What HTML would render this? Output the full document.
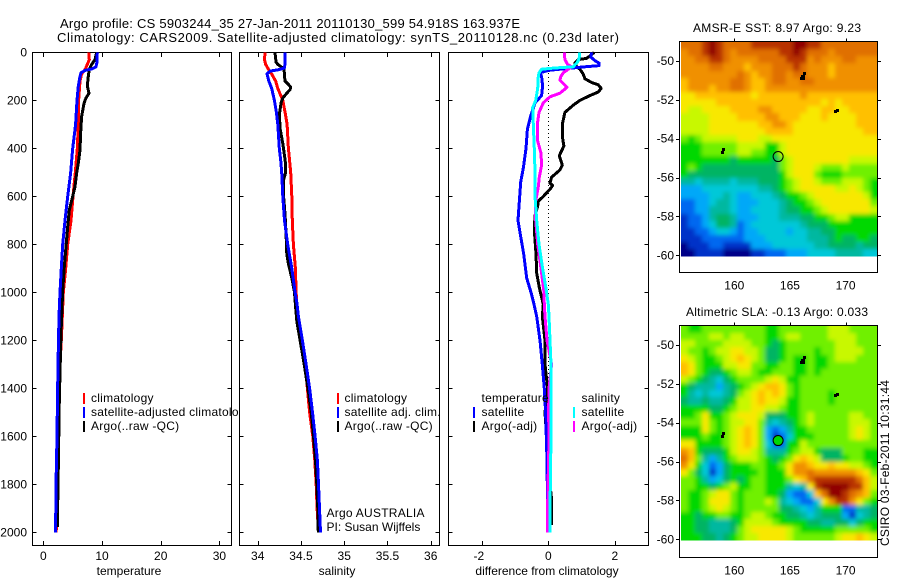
<!DOCTYPE html>
<html>
<head>
<meta charset="utf-8">
<title>Argo profile</title>
<style>
html,body{margin:0;padding:0;background:#fff;}
svg{display:block;}
text{font-family:"Liberation Sans",sans-serif;font-size:12px;fill:#000;}
</style>
</head>
<body>
<svg id="chart" xmlns="http://www.w3.org/2000/svg" width="900" height="580" viewBox="0 0 900 580">
<defs>
<filter id="map-smooth" x="-10%" y="-10%" width="120%" height="120%"><feGaussianBlur stdDeviation="2"/></filter>
<clipPath id="sst-clip"><rect x="681" y="42" width="196" height="214.5"/></clipPath>
<clipPath id="sla-clip"><rect x="681" y="326" width="196" height="214.5"/></clipPath>
</defs>
<rect x="0" y="0" width="900" height="580" fill="#fff"/>
<text x="60" y="28" style="font-size:13px" textLength="460" lengthAdjust="spacing">Argo profile: CS 5903244_35 27-Jan-2011 20110130_599 54.918S 163.937E</text>
<text x="57" y="42" style="font-size:13px" textLength="562" lengthAdjust="spacing">Climatology: CARS2009. Satellite-adjusted climatology: synTS_20110128.nc (0.23d later)</text>
<text x="693" y="32" textLength="168" lengthAdjust="spacing">AMSR-E SST: 8.97 Argo: 9.23</text>
<text x="686" y="316" textLength="182" lengthAdjust="spacing">Altimetric SLA: -0.13 Argo: 0.033</text>
<text transform="translate(889,546) rotate(-90)" textLength="166" lengthAdjust="spacing">CSIRO 03-Feb-2011 10:31:44</text>
</svg>
<script>
/* ---------- profile data (depth in dbar) ---------- */
const depthTicks = [0,200,400,600,800,1000,1200,1400,1600,1800,2000];
const tempTicks = [0,10,20,30];
const salTicks = [34,34.5,35,35.5,36];
const salTickLabels = ['34','34.5','35','35.5','36'];
const diffTicks = [-2,0,2];

const tempClimDepth = [0,30,50,70,90,120,200,300,400,500,600,700,800,900,1000,1100,1200,1300,1400,1550,1800,2000];
const tempClimValue = [7.73,7.84,7.5,7.16,6.53,6.25,6.02,5.97,5.8,5.45,5.06,4.72,4.15,3.81,3.41,3.24,3.07,2.84,2.73,2.67,2.4,2.2];
const tempArgoDepth = [0,30,50,70,100,140,170,190,212,268,337,407,462,504,560,600,657,726,810,893,990,1170,1450,1728,1978];
const tempArgoValue = [9.09,8.81,8.24,7.84,7.67,7.5,7.78,7.27,6.93,6.53,6.36,6.25,5.97,5.68,5.4,5.0,4.43,4.15,3.86,3.58,3.3,3.01,2.73,2.56,2.39];
const tempSatDepth = [0,40,60,69,75,85,100,140,200,300,400,500,600,700,800,900,1000,1100,1300,1500,1600,1800,2000];
const tempSatValue = [9.2,9.15,8.98,8.24,7.1,6.42,6.25,5.97,5.74,5.51,5.0,4.66,4.15,3.69,3.3,3.07,2.84,2.67,2.5,2.39,2.33,2.16,2.1];

const salClimDepth = [0,30,50,70,90,120,150,200,250,300,400,500,600,700,800,900,1000,1100,1200,1300,1400,1500,1600,1700,1800,1900,2000];
const salClimValue = [34.085,34.077,34.093,34.124,34.162,34.208,34.232,34.29,34.317,34.34,34.355,34.382,34.394,34.40,34.413,34.436,34.444,34.463,34.51,34.548,34.575,34.6,34.637,34.66,34.676,34.687,34.703];
const salArgoDepth = [0,40,50,60,70,100,120,130,145,155,170,190,210,260,320,380,430,470,500,530,600,680,760,840,880,940,1000,1050,1120,1200,1300,1400,1500,1600,1700,1800,1900,2000];
const salArgoValue = [34.2,34.212,34.232,34.27,34.305,34.31,34.317,34.347,34.382,34.375,34.336,34.29,34.27,34.25,34.26,34.29,34.31,34.324,34.324,34.30,34.30,34.317,34.328,34.336,34.355,34.394,34.425,34.436,34.452,34.49,34.537,34.58,34.618,34.645,34.668,34.683,34.695,34.70];
const salSatDepth = [0,40,65,72,78,90,120,150,200,250,300,400,450,500,600,700,800,900,1000,1050,1100,1200,1300,1400,1500,1600,1700,1800,1900,2000];
const salSatValue = [34.317,34.317,34.31,34.24,34.143,34.108,34.13,34.162,34.193,34.216,34.232,34.25,34.266,34.278,34.29,34.31,34.347,34.394,34.432,34.456,34.47,34.517,34.56,34.6,34.633,34.664,34.69,34.703,34.714,34.726];

const diffTempSatDepth = [0,20,35,45,55,60,68,75,85,100,140,180,210,260,320,400,480,540,600,700,760,840,940,1000,1050,1100,1200,1300,1400,1500,1600,1700,1800,2000];
const diffTempSatValue = [1.3,1.28,1.41,1.53,1.53,1.1,0.5,0,-0.25,-0.2,-0.17,-0.2,-0.4,-0.52,-0.63,-0.67,-0.75,-0.83,-0.86,-0.91,-0.84,-0.74,-0.65,-0.52,-0.43,-0.35,-0.25,-0.18,-0.12,-0.08,-0.06,-0.04,-0.03,-0.02];
const diffTempArgoDepth = [0,15,25,30,45,60,70,90,110,125,135,150,165,180,200,220,250,300,350,390,430,470,490,520,545,555,570,600,620,640,680,740,780,840,920,980,1050,1100,1200,1300,1400,1500,1600,1700,1800,1850,1970];
const diffTempArgoValue = [1.38,1.25,1.15,0.9,0.8,0.85,0.95,1.05,1.1,1.3,1.5,1.59,1.5,1.25,0.95,0.75,0.5,0.42,0.42,0.47,0.33,0.42,0.35,0.1,0.05,0.13,0.05,-0.15,-0.3,-0.32,-0.4,-0.42,-0.4,-0.37,-0.35,-0.27,-0.15,-0.18,-0.1,-0.1,-0.02,-0.1,-0.05,-0.02,0.05,0.09,0.09];
const diffSalSatDepth = [0,25,40,60,65,70,85,100,150,200,230,300,400,500,600,700,800,900,1000,1050,1100,1200,1300,1400,1600,1800,2000];
const diffSalSatValue = [0.94,0.93,0.88,0.75,0.2,-0.2,-0.28,-0.3,-0.32,-0.38,-0.47,-0.45,-0.42,-0.4,-0.4,-0.35,-0.28,-0.17,-0.05,0,0.02,0.05,0.08,0.08,0.08,0.06,0.05];
const diffSalArgoDepth = [0,30,50,60,70,85,100,115,130,145,155,170,185,210,250,300,370,420,470,520,560,620,700,800,900,1000,1050,1100,1200,1300,1400,1500,1600,1700,1800,1900,2000];
const diffSalArgoValue = [0.48,0.5,0.58,0.7,0.6,0.45,0.38,0.35,0.45,0.56,0.48,0.35,0.05,-0.15,-0.28,-0.33,-0.32,-0.22,-0.2,-0.27,-0.3,-0.38,-0.38,-0.32,-0.22,-0.13,-0.12,-0.1,-0.04,0.1,0.02,0.01,0.02,0.01,-0.01,-0.02,-0.02];

/* ---------- map data ---------- */
const lonTicks = [160,165,170];
const latTicks = [-50,-52,-54,-56,-58,-60];
const gridLonStart = 155.21;
const gridLonStep = 0.63;
const gridLatStart = -49.02;
const gridLatStep = -0.368;
const argoLon = 163.937;
const argoLat = -54.918;
const landLon = [166.0,166.15,166.05,166.2,166.25,169.05,169.2,158.85,158.95];
const landLat = [-50.9,-50.9,-50.75,-50.75,-50.6,-52.55,-52.5,-54.7,-54.55];

const sstLevels = [
[13,13,13,14,15,14,13,13,13,13,14,14,14,14,14,14,15,15,14,14,13,13,13,13,13,13,13,13],
[12,13,13,14,15,14,13,12,13,13,13,13,13,13,14,14,15,14,13,13,13,12,13,13,13,13,13,13],
[12,12,13,13,14,14,13,12,12,12,12,13,13,13,13,14,14,14,12,13,12,12,12,13,13,12,12,12],
[12,12,12,12,13,13,12,12,12,11,12,12,12,13,13,13,14,13,12,12,12,11,12,12,12,12,12,12],
[12,12,12,12,12,12,12,12,13,12,11,12,12,13,13,12,13,13,12,12,12,11,12,12,12,12,12,12],
[11,12,12,12,12,12,12,13,13,12,11,11,12,13,13,12,12,13,13,12,12,12,12,12,12,12,12,12],
[11,12,12,12,11,12,12,13,13,12,11,11,12,12,12,12,12,12,12,12,12,12,12,12,12,12,12,12],
[10,10,11,11,11,11,11,11,11,11,10,11,11,11,11,11,11,12,11,11,11,11,11,11,11,11,11,11],
[10,10,10,10,10,11,11,11,11,11,11,11,11,11,11,11,11,11,11,11,10,11,10,11,11,11,11,11],
[10,9,9,10,10,10,10,11,11,11,11,12,12,11,11,11,11,11,10,10,11,11,10,10,11,11,11,11],
[9,9,9,9,10,10,10,10,11,11,11,11,12,12,11,11,11,10,10,10,11,10,10,10,10,11,11,11],
[9,9,9,9,10,10,10,10,10,10,10,11,11,12,12,11,10,10,10,10,10,10,10,10,10,11,11,11],
[9,9,9,9,10,10,10,10,10,10,10,10,11,11,11,11,10,10,10,10,10,10,10,10,10,10,11,11],
[8,7,8,9,9,9,9,9,10,10,10,9,9,10,10,10,10,10,10,10,10,10,10,10,10,10,10,10],
[7,7,7,8,8,8,8,8,9,9,9,9,7,7,9,10,10,10,10,10,10,10,10,10,10,10,10,10],
[7,7,7,8,8,8,8,8,9,9,8,8,7,7,9,10,10,10,10,10,10,10,10,10,10,10,10,10],
[7,7,7,7,7,7,7,6,7,7,7,7,7,6,8,9,10,10,10,10,10,10,10,10,9,9,9,9],
[7,8,7,6,6,6,6,6,6,6,6,6,6,6,8,9,10,10,10,9,8,8,8,9,8,8,8,8],
[7,6,6,6,6,6,6,6,6,6,6,6,6,6,7,9,10,10,10,8,7,7,7,8,8,8,8,8],
[5,5,4,5,5,5,5,4,5,5,5,6,6,6,7,8,9,10,10,9,8,8,8,9,9,9,8,7],
[3,3,3,4,4,4,4,4,4,4,4,5,5,6,7,8,9,10,10,10,10,10,9,9,10,9,8,7],
[3,3,3,3,4,4,5,4,3,3,4,4,4,5,6,7,7,8,9,10,10,10,10,10,10,10,9,7],
[2,2,3,3,4,5,5,4,3,3,3,4,4,4,5,6,7,7,8,9,10,10,10,10,10,10,10,8],
[2,2,3,3,5,5,5,4,3,3,4,4,4,4,5,6,6,7,7,8,9,10,10,10,10,10,10,9],
[1,2,2,3,5,6,6,5,3,3,3,4,4,4,5,5,5,6,6,7,7,8,9,9,7,7,7,7],
[1,2,2,3,4,6,6,5,2,3,4,4,4,4,4,4,4,5,6,6,6,7,7,7,7,7,7,7],
[1,1,2,2,3,4,4,3,2,3,3,4,4,4,4,3,4,4,5,5,6,6,7,7,7,7,7,7],
[1,1,1,2,2,2,2,2,2,3,3,3,4,4,4,4,4,4,5,5,5,6,7,6,6,7,7,6],
[0,1,1,1,2,2,1,1,1,1,3,3,3,4,4,4,4,4,4,5,5,6,6,6,6,5,6,6],
[0,0,1,1,1,1,0,0,0,0,1,1,2,2,2,3,3,3,4,4,4,4,5,5,5,5,4,4]
];
const slaLevels = [
[8,7,7,8,8,8,8,8,8,8,8,8,7,7,8,8,8,8,8,8,8,9,9,9,8,8,8,8],
[8,8,8,8,9,9,8,9,9,8,8,8,7,7,8,9,9,8,8,8,8,9,9,9,9,8,8,8],
[9,9,8,8,8,8,9,9,9,9,8,8,7,6,7,8,8,8,8,8,8,8,9,9,9,8,8,8],
[9,8,8,7,8,9,9,10,10,9,9,8,6,6,7,8,8,8,8,7,8,8,9,9,9,9,8,8],
[10,9,8,7,7,8,9,10,11,10,9,8,6,6,7,8,7,7,8,7,7,8,9,9,9,8,8,8],
[11,10,8,7,7,7,9,9,10,10,8,8,7,7,8,8,7,7,8,7,7,8,8,8,8,8,8,8],
[11,10,8,7,6,6,7,8,9,9,8,7,7,8,8,8,7,7,8,7,8,8,8,8,8,8,8,8],
[9,8,7,6,5,4,6,7,8,8,8,8,9,10,9,7,7,8,8,8,8,8,8,8,8,8,8,8],
[7,6,5,5,5,3,5,6,7,8,9,10,11,11,10,8,7,8,8,8,8,8,8,8,8,8,8,8],
[7,5,4,5,4,4,5,6,8,9,10,11,10,11,10,8,7,8,8,8,8,7,8,8,8,8,8,8],
[6,5,5,6,5,5,6,7,9,9,10,11,10,10,9,7,7,8,8,8,8,7,8,8,8,8,8,8],
[7,7,7,7,6,6,7,8,9,9,10,10,9,9,8,7,7,8,8,8,8,8,8,8,8,8,8,8],
[7,7,8,10,7,7,8,9,10,10,10,9,6,6,6,7,7,8,9,8,8,8,8,8,9,9,8,8],
[8,8,8,10,8,7,8,9,9,10,10,8,5,4,5,6,7,8,9,8,8,8,8,8,9,9,9,8],
[7,7,7,10,8,7,8,9,10,11,10,8,3,2,3,5,7,7,8,8,8,8,8,8,9,10,9,8],
[7,7,7,8,7,7,8,9,10,11,10,8,3,1,2,4,7,7,7,8,8,8,8,8,9,10,9,8],
[10,10,7,7,7,7,8,9,10,11,10,8,4,2,2,7,7,9,8,8,8,8,8,8,8,8,8,8],
[12,11,7,6,6,6,7,9,10,10,9,8,5,5,5,7,8,9,9,7,6,6,6,8,8,8,7,7],
[13,11,8,5,3,5,7,8,9,9,9,8,7,6,7,8,10,11,10,9,6,6,6,7,8,8,7,7],
[12,10,7,4,2,3,6,7,7,7,8,8,7,7,8,10,12,12,11,10,10,11,10,10,9,9,8,7],
[10,8,6,4,1,3,6,7,7,7,7,8,7,7,7,10,12,12,13,12,12,12,12,12,12,11,10,8],
[8,8,7,5,3,4,6,7,6,7,8,8,7,7,7,8,10,11,13,14,14,14,14,14,14,13,11,9],
[8,8,7,7,6,7,8,9,7,7,8,8,7,7,7,5,4,5,10,14,15,15,15,15,14,14,11,9],
[8,7,7,8,9,10,10,8,7,8,8,8,7,7,6,3,2,2,4,11,13,15,15,14,13,12,11,8],
[8,7,7,8,10,10,10,8,7,8,8,8,9,8,5,4,3,2,2,4,10,12,14,14,12,10,8,7],
[8,7,7,8,9,10,9,8,7,8,8,8,8,8,6,6,5,4,3,5,7,7,7,2,2,5,5,6],
[7,7,6,7,7,8,8,7,7,8,9,9,8,7,7,6,6,5,4,5,6,6,6,3,1,4,5,6],
[7,7,6,6,5,5,5,6,7,9,9,9,9,8,7,7,7,7,6,6,5,5,6,6,4,6,7,7],
[7,7,6,6,5,5,5,6,8,9,10,10,10,10,10,9,8,7,7,7,7,7,8,8,8,8,8,7],
[7,7,7,6,6,5,6,7,8,9,9,10,10,10,10,9,8,8,8,8,8,8,9,10,10,11,10,9]
];
const levelColors = ['#000088','#0030c8','#0068f0','#00a8f8','#00c8d8','#00b8a0','#00b464','#00d800','#70f000','#c8f800','#f8e800','#ffc000','#f09000','#e07000','#b83000','#900000'];

/* ---------- drawing ---------- */
const NS = 'http://www.w3.org/2000/svg';
const svg = document.getElementById('chart');
const yDepth = d => 52.4 + d * 0.24;

function shape(tag, attrs, parent){
  const el = document.createElementNS(NS, tag);
  for (const k in attrs) el.setAttribute(k, attrs[k]);
  (parent || svg).appendChild(el);
  return el;
}
function label(str, x, y, anchor){
  const t = shape('text', {x:x, y:y, 'text-anchor':anchor || 'start'});
  t.textContent = str;
  return t;
}
function seg(x1,y1,x2,y2,color,w){
  return shape('line',{x1:x1,y1:y1,x2:x2,y2:y2,stroke:color,'stroke-width':w||1,'shape-rendering':'crispEdges'});
}

function profilePanel(p){
  const bg = shape('rect',{x:p.left,y:52.5,width:p.right-p.left,height:493,fill:'#fff',stroke:'#000','stroke-width':1.2,'shape-rendering':'crispEdges'});
  
  
  depthTicks.forEach(d => {
    const y = Math.round(yDepth(d)) + 0.5;
    const a = seg(p.left,y,p.left+4,y,'#000');
    
    
    const b = seg(p.right-4,y,p.right,y,'#000');
    
    
    if (p.showDepth) {
      const t = label(String(d), 27, yDepth(d) + 4, 'end');
      
      
    }
  });
  p.ticks.forEach((v,i) => {
    const x = Math.round(p.x(v)) + 0.5;
    const a = seg(x,545.5,x,541,'#000');
    
    
    const b = seg(x,52.5,x,57,'#000');
    
    
    const t = label(p.tickLabels ? p.tickLabels[i] : String(v), p.x(v) - (v < 0 ? 3 : 0), 560, 'middle');
    
    
  });
  const title = label(p.xTitle, p.xTitleX, 575, 'middle');
  
  
}
function profileLine(name, p, depths, values, color, w){
  const pts = depths.map((d,i) => p.x(values[i]).toFixed(1) + ',' + yDepth(d).toFixed(1)).join(' ');
  const l = shape('polyline',{points:pts,fill:'none',stroke:color,'stroke-width':w,'shape-rendering':'crispEdges','stroke-linejoin':'round'});
  
  
}
function legendEntry(name, barX, textX, y, color, str, spacing){
  if (color) {
    const r = shape('rect',{x:barX,y:y-9,width:2,height:11,fill:color,'shape-rendering':'crispEdges'});
    
    
  }
  const t = label(str, textX, y);
  
  
  t.style.letterSpacing = (spacing === undefined ? 0.25 : spacing) + 'px';
}

const tempPanel = {name:'temperature-panel', left:32.5, right:231.5, showDepth:true, ticks:tempTicks, x:v => 43.3 + 5.87*v, xTitle:'temperature', xTitleX:129};
const salPanel = {name:'salinity-panel', left:239.5, right:439.5, showDepth:false, ticks:salTicks, tickLabels:salTickLabels, x:v => 257.7 + 86.5*(v-34), xTitle:'salinity', xTitleX:337};
const diffPanel = {name:'difference-panel', left:448.5, right:648.5, showDepth:false, ticks:diffTicks, x:v => 548.3 + 33.25*v, xTitle:'difference from climatology', xTitleX:547};

/* temperature panel */
profilePanel(tempPanel);
profileLine('temperature-climatology-line', tempPanel, tempClimDepth, tempClimValue, '#ff0000', 3);
profileLine('temperature-argo-line', tempPanel, tempArgoDepth, tempArgoValue, '#000000', 3);
profileLine('temperature-satellite-line', tempPanel, tempSatDepth, tempSatValue, '#0000ff', 3);
legendEntry('temperature-legend-climatology', 83, 91, 402, '#ff0000', 'climatology');
legendEntry('temperature-legend-satellite', 83, 91, 416, '#0000ff', 'satellite-adjusted climatology');
legendEntry('temperature-legend-argo', 83, 91, 430, '#000000', 'Argo(..raw -QC)');

/* salinity panel (its white plot area clips the long legend label) */
profilePanel(salPanel);
profileLine('salinity-climatology-line', salPanel, salClimDepth, salClimValue, '#ff0000', 3);
profileLine('salinity-argo-line', salPanel, salArgoDepth, salArgoValue, '#000000', 3);
profileLine('salinity-satellite-line', salPanel, salSatDepth, salSatValue, '#0000ff', 3);
legendEntry('salinity-legend-climatology', 337, 344.5, 402, '#ff0000', 'climatology');
legendEntry('salinity-legend-satellite', 337, 344.5, 416, '#0000ff', 'satellite adj. clim.');
legendEntry('salinity-legend-argo', 337, 344.5, 430, '#000000', 'Argo(..raw -QC)');
legendEntry('float-owner-label', 0, 326.5, 517, null, 'Argo AUSTRALIA');
legendEntry('principal-investigator-label', 0, 326.5, 531, null, 'PI: Susan Wijffels', 0);

/* difference panel */
profilePanel(diffPanel);
const zeroLine = shape('line',{x1:548.5,y1:53,x2:548.5,y2:532,stroke:'#000','stroke-width':1,'stroke-dasharray':'1 3','shape-rendering':'crispEdges'});


profileLine('difference-temperature-argo-line', diffPanel, diffTempArgoDepth, diffTempArgoValue, '#000000', 3);
profileLine('difference-temperature-satellite-line', diffPanel, diffTempSatDepth, diffTempSatValue, '#0000ff', 3);
profileLine('difference-salinity-argo-line', diffPanel, diffSalArgoDepth, diffSalArgoValue, '#ff00ff', 3);
profileLine('difference-salinity-satellite-line', diffPanel, diffSalSatDepth, diffSalSatValue, '#00ffff', 3);
legendEntry('difference-legend-temperature-header', 0, 481.5, 402, null, 'temperature');
legendEntry('difference-legend-temperature-satellite', 473, 481.5, 416, '#0000ff', 'satellite');
legendEntry('difference-legend-temperature-argo', 473, 481.5, 430, '#000000', 'Argo(-adj)');
legendEntry('difference-legend-salinity-header', 0, 581.5, 402, null, 'salinity');
legendEntry('difference-legend-salinity-satellite', 573, 581.5, 416, '#00ffff', 'satellite');
legendEntry('difference-legend-salinity-argo', 573, 581.5, 430, '#ff00ff', 'Argo(-adj)');

/* maps */
const xLon = lon => 734.3 + 11.13*(lon-160);
function mapPanel(m){
  const yLat = lat => m.y50 - 19.43*(lat+50);
  const frame = shape('rect',{x:679.5,y:m.top,width:198,height:m.bottom-m.top,fill:'#fff','shape-rendering':'crispEdges'});
  
  
  const clip = shape('g',{'clip-path':'url(#' + m.clipId + ')'});
  
  
  const grid = shape('g',{filter:'url(#map-smooth)'}, clip);
  
  
  const nRows = m.levels.length;
  m.levels.forEach((row,r) => row.forEach((lev,c) => {
    /* edge cells are extended past the clip so the smoothing does not fade the map edges */
    const x0 = Math.round(xLon(gridLonStart + c*gridLonStep)) - (c === 0 ? 10 : 0);
    const x1 = Math.round(xLon(gridLonStart + (c+1)*gridLonStep)) + (c === row.length-1 ? 10 : 0);
    const y0 = Math.round(yLat(gridLatStart + r*gridLatStep)) - (r === 0 ? 10 : 0);
    const y1 = Math.round(yLat(gridLatStart + (r+1)*gridLatStep)) + (r === nRows-1 ? 10 : 0);
    const cell = shape('rect',{x:x0,y:y0,width:x1-x0,height:y1-y0,fill:levelColors[lev],'shape-rendering':'crispEdges'}, grid);
    
    
  }));
  landLon.forEach((lon,i) => {
    const blob = shape('rect',{x:Math.round(xLon(lon))-1,y:Math.round(yLat(landLat[i]))-1,width:3,height:3,fill:'#000','shape-rendering':'crispEdges'});
    
    
  });
  const border = shape('rect',{x:679.5,y:m.top,width:198,height:m.bottom-m.top,fill:'none',stroke:'#000','stroke-width':1.2,'shape-rendering':'crispEdges'});
  
  
  lonTicks.forEach(lon => {
    const x = Math.round(xLon(lon)) + 0.5;
    const a = seg(x,m.top,x,m.top-3,'#000');
    
    
    const t = label(String(lon), xLon(lon), m.bottom + 17, 'middle');
    
    
  });
  latTicks.forEach(lat => {
    const y = Math.round(yLat(lat)) + 0.5;
    const a = seg(676,y,679.5,y,'#000');
    
    
    const b = seg(877.5,y,881,y,'#000');
    
    
    const t = label(String(lat), 674, yLat(lat) + 4, 'end');
    
    
  });
  const dot = shape('circle',{cx:xLon(argoLon),cy:yLat(argoLat),r:5,fill:m.dotFill,stroke:'#000','stroke-width':1});
  
  
}
mapPanel({name:'sst-map', levels:sstLevels, clipId:'sst-clip', top:41.5, bottom:272.5, y50:61, dotFill:'none'});
mapPanel({name:'sla-map', levels:slaLevels, clipId:'sla-clip', top:325.5, bottom:557.5, y50:345, dotFill:'#00d800'});
</script>
</body>
</html>
